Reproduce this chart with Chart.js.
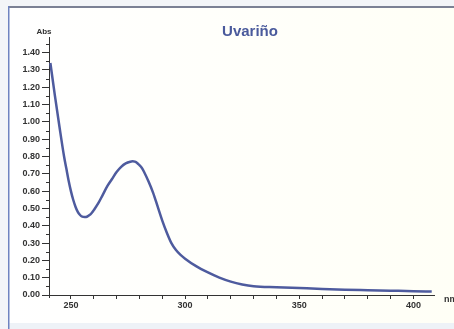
<!DOCTYPE html>
<html>
<head>
<meta charset="utf-8">
<script src="https://cdn.jsdelivr.net/npm/chart.js@4/dist/chart.umd.min.js"></script>
<style>
  html, body { margin: 0; padding: 0; background: #f3f5f8; }
  #wrap { width: 454px; height: 329px; position: relative; }
</style>
</head>
<body>
<div id="wrap"><canvas id="uvChart" width="454" height="329"></canvas></div>
<script>
// spectrum
const wavelengths = [241, 243, 245, 247, 248, 249, 250, 251, 252, 253, 254, 255, 256, 257, 258, 259, 260, 262, 264, 266, 268, 270, 272, 274, 276, 277, 278, 279, 280, 281, 282, 284, 286, 288, 290, 292, 294, 296, 298, 300, 305, 310, 315, 320, 325, 330, 340, 350, 360, 370, 380, 390, 400, 408];
const absorbance = [1.34, 1.15, 0.97, 0.80, 0.73, 0.66, 0.60, 0.55, 0.51, 0.48, 0.462, 0.452, 0.45, 0.452, 0.46, 0.472, 0.49, 0.53, 0.58, 0.63, 0.67, 0.71, 0.74, 0.76, 0.77, 0.772, 0.77, 0.763, 0.75, 0.735, 0.712, 0.655, 0.59, 0.51, 0.43, 0.36, 0.30, 0.26, 0.232, 0.21, 0.165, 0.13, 0.10, 0.077, 0.061, 0.051, 0.045, 0.04, 0.035, 0.031, 0.028, 0.025, 0.022, 0.02];

const xTicks = [250, 260, 270, 280, 290, 300, 310, 320, 330, 340, 350, 360, 370, 380, 390, 400];
const xLabels = [250, 300, 350, 400];
const yTicks = [0, 0.1, 0.2, 0.3, 0.4, 0.5, 0.6, 0.7, 0.8, 0.9, 1.0, 1.1, 1.2, 1.3, 1.4];
const yMinorTicks = [0.05, 0.15, 0.25, 0.35, 0.45, 0.55, 0.65, 0.75, 0.85, 0.95, 1.05, 1.15, 1.25, 1.35, 1.45];

const chartTitle = 'Uvariño';
const yUnit = 'Abs';
const xUnit = 'nm';

const lineColor = '#4e5b9e';
const axisColor = '#333333';

const framePlugin = {
    id: 'frame',
    beforeDraw(chart) {
        const c = chart.ctx;
        c.save();
        c.fillStyle = '#f3f5f8';
        c.fillRect(0, 0, chart.width, chart.height);
        const g = c.createLinearGradient(9, 0, chart.width, 0);
        g.addColorStop(0, '#ffffff');
        g.addColorStop(1, '#fffff6');
        c.fillStyle = g;
        c.fillRect(9, 8, chart.width - 9, 315);
        c.fillStyle = '#eef2f7';
        c.fillRect(9, 323, chart.width - 9, 6);
        c.fillStyle = '#7b8194';
        c.fillRect(8, 6, chart.width - 8, 2);
        c.fillStyle = '#6f83c0';
        c.fillRect(8, 6, 1.5, chart.height - 6);
        c.restore();
    },
    afterDraw(chart) {
        const c = chart.ctx;
        const x = chart.scales.x;
        const y = chart.scales.y;
        c.save();
        c.strokeStyle = axisColor;
        c.lineWidth = 1;
        c.beginPath();
        yMinorTicks.forEach(v => {
            const py = Math.round(y.getPixelForValue(v)) + 0.5;
            c.moveTo(x.left - 3, py);
            c.lineTo(x.left, py);
        });
        c.moveTo(x.left + 0.5, y.bottom);
        c.lineTo(x.left + 0.5, y.bottom + 3);
        c.stroke();

        c.fillStyle = '#4a5a9c';
        c.font = 'bold 15px Arial, "Liberation Sans", sans-serif';
        c.textAlign = 'center';
        c.textBaseline = 'middle';
        c.fillText(chartTitle, 250, 32);

        c.fillStyle = axisColor;
        c.font = 'bold 8px Arial, "Liberation Sans", sans-serif';
        c.textAlign = 'center';
        c.fillText(yUnit, 44, 32);
        c.font = 'bold 9px Arial, "Liberation Sans", sans-serif';
        c.textAlign = 'left';
        c.fillText(xUnit, 444, 300);
        c.restore();
    }
};

new Chart(document.getElementById('uvChart').getContext('2d'), {
    type: 'line',
    data: {
        datasets: [{
            label: chartTitle,
            data: wavelengths.map((w, i) => ({ x: w, y: absorbance[i] })),
            borderColor: lineColor,
            borderWidth: 2.5,
            pointRadius: 0,
            fill: false,
            cubicInterpolationMode: 'monotone'
        }]
    },
    options: {
        responsive: false,
        animation: false,
        layout: { padding: { left: 0, top: 37, right: 20, bottom: 0 } },
        plugins: {
            legend: { display: false },
            title: { display: false },
            tooltip: { enabled: false }
        },
        scales: {
            x: {
                type: 'linear',
                min: 240.4,
                max: 409,
                afterBuildTicks: s => { s.ticks = xTicks.map(v => ({ value: v })); },
                afterFit: s => { s.height = 34; },
                ticks: {
                    autoSkip: false,
                    maxRotation: 0,
                    padding: 1,
                    color: axisColor,
                    font: { family: 'Arial, "Liberation Sans", sans-serif', size: 9, weight: 'bold' },
                    callback: v => xLabels.includes(v) ? String(v) : ''
                },
                grid: { drawOnChartArea: false, tickLength: 4, color: axisColor },
                border: { color: axisColor, width: 1 }
            },
            y: {
                min: 0,
                max: 1.49,
                afterBuildTicks: s => { s.ticks = yTicks.map(v => ({ value: v })); },
                afterFit: s => { s.width = 49; },
                ticks: {
                    autoSkip: false,
                    padding: 2,
                    color: axisColor,
                    font: { family: 'Arial, "Liberation Sans", sans-serif', size: 9, weight: 'bold' },
                    callback: v => v.toFixed(2)
                },
                grid: { drawOnChartArea: false, tickLength: 7, color: axisColor },
                border: { color: axisColor, width: 1 }
            }
        }
    },
    plugins: [framePlugin]
});
</script>
</body>
</html>
